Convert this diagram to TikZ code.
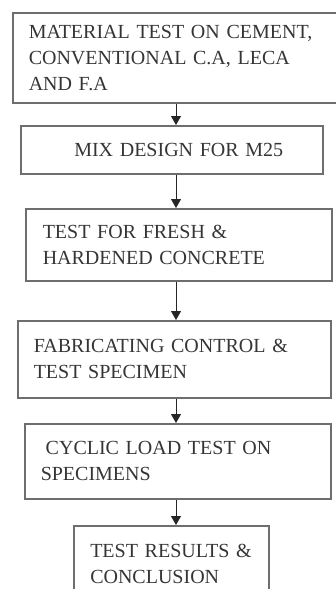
\documentclass[tikz,border=0pt]{standalone}
\usepackage{fontspec}
\setmainfont{Liberation Serif}
\usetikzlibrary{arrows.meta}
\definecolor{boxline}{HTML}{6E6E6E}
\definecolor{boxtext}{HTML}{353535}
\begin{document}
\begin{tikzpicture}[x=1pt,y=-1pt,
    stage/.style={draw=boxline, line width=1.5pt, rectangle, anchor=north west,
        inner xsep=16pt, inner ysep=0pt, align=left, text=boxtext,
        font=\fontsize{20}{26}\selectfont},
    flow/.style={draw=black!85, line width=0.8pt, -{Triangle[length=9pt,width=10pt]}}]
    \useasboundingbox (0,0) rectangle (336,589);

    \node[stage, minimum width=328pt, minimum height=90pt, text width=296pt] (material) at (12,12)
        {MATERIAL TEST ON CEMENT,\\CONVENTIONAL C.A, LECA\\AND F.A};
    \node[stage, minimum width=302pt, minimum height=48pt, text width=270pt, align=center] (mix) at (20,125)
        {\hspace{14pt}MIX DESIGN FOR M25};
    \node[stage, minimum width=305pt, minimum height=72pt, text width=272pt, inner xsep=17pt] (fresh) at (25,208)
        {TEST FOR FRESH \&\\HARDENED CONCRETE};
    \node[stage, minimum width=313pt, minimum height=77pt, text width=281pt] (specimen) at (17,320)
        {FABRICATING CONTROL \&\\TEST SPECIMEN\\[-6pt]};
    \node[stage, minimum width=306pt, minimum height=75pt, text width=274pt] (cyclic) at (24,423)
        {\hspace{5pt}CYCLIC LOAD TEST ON\\SPECIMENS};
    \node[stage, minimum width=195pt, minimum height=76pt, text width=162pt] (results) at (73,525)
        {TEST RESULTS \&\\CONCLUSION};

    % arrows down the middle
    \coordinate (ax) at (176,0);
    \draw[flow] (material.south -| ax) -- (mix.north -| ax);
    \draw[flow] (mix.south -| ax) -- (fresh.north -| ax);
    \draw[flow] (fresh.south -| ax) -- (specimen.north -| ax);
    \draw[flow] (specimen.south -| ax) -- (cyclic.north -| ax);
    \draw[flow] (cyclic.south -| ax) -- (results.north -| ax);
\end{tikzpicture}
\end{document}
